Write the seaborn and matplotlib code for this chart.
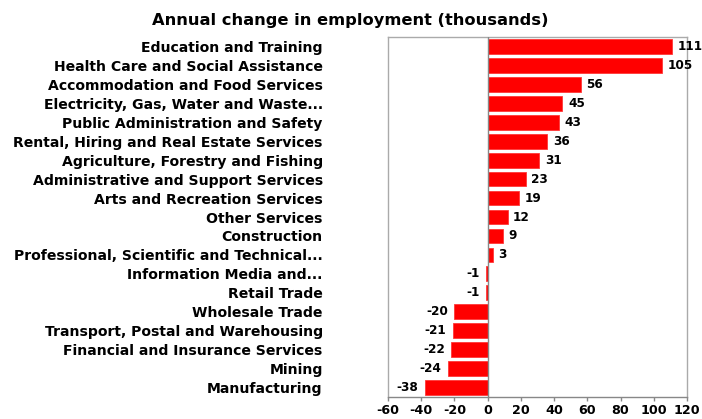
import matplotlib
matplotlib.use("Agg")
import matplotlib.pyplot as plt
import seaborn as sns
import pandas as pd

categories = [
    "Education and Training",
    "Health Care and Social Assistance",
    "Accommodation and Food Services",
    "Electricity, Gas, Water and Waste...",
    "Public Administration and Safety",
    "Rental, Hiring and Real Estate Services",
    "Agriculture, Forestry and Fishing",
    "Administrative and Support Services",
    "Arts and Recreation Services",
    "Other Services",
    "Construction",
    "Professional, Scientific and Technical...",
    "Information Media and...",
    "Retail Trade",
    "Wholesale Trade",
    "Transport, Postal and Warehousing",
    "Financial and Insurance Services",
    "Mining",
    "Manufacturing",
]
values = [111, 105, 56, 45, 43, 36, 31, 23, 19, 12, 9, 3, -1, -1, -20, -21, -22, -24, -38]
x_ticks = [-60, -40, -20, 0, 20, 40, 60, 80, 100, 120]
title = "Annual change in employment (thousands)"

sns.set_theme(style="white")
plt.rcParams["font.family"] = ["DejaVu Sans"]
plt.rcParams["text.color"] = "black"
plt.rcParams["xtick.color"] = "black"
plt.rcParams["ytick.color"] = "black"

df = pd.DataFrame({"category": categories, "value": values})

fig = plt.figure(figsize=(7.02, 4.19), dpi=100)
ax = fig.add_axes([0.5527, 0.0525, 0.4259, 0.8592])

sns.barplot(data=df, x="value", y="category", orient="h", color="#FF0000",
            saturation=1, width=0.78, edgecolor="#FF3838", linewidth=0.6, ax=ax)

ax.set_xlim(-60, 120)
ax.set_xticks(x_ticks)
ax.set_xticklabels([str(t) for t in x_ticks], fontsize=9.2, fontweight="bold", color="black")
ax.set_ylim(len(categories) - 0.5, -0.5)
ax.set_yticks(range(len(categories)))
ax.set_yticklabels(categories, fontsize=10.1, fontweight="bold", color="black")
ax.tick_params(axis="y", length=0, pad=47)
ax.tick_params(axis="x", length=3, width=1, color="#888888", direction="out", pad=2.2, bottom=True)
ax.set_xlabel("")
ax.set_ylabel("")

for s in ax.spines.values():
    s.set_color("#aaaaaa")
    s.set_linewidth(1)
ax.spines["bottom"].set_color("#888888")
ax.axvline(0, color="#888888", linewidth=1, zorder=3)

for i, v in enumerate(values):
    if v >= 0:
        ax.annotate(str(v), (v, i), xytext=(4, 0), textcoords="offset points",
                    va="center", ha="left", fontsize=8.7, fontweight="bold", color="black")
    else:
        ax.annotate(str(v), (v, i), xytext=(-4.5, 0), textcoords="offset points",
                    va="center", ha="right", fontsize=8.7, fontweight="bold", color="black")

fig.text(0.499, 0.951, title, ha="center", va="center", fontsize=11.7, fontweight="bold",
         color="black")

fig.savefig("out.png", dpi=100)
